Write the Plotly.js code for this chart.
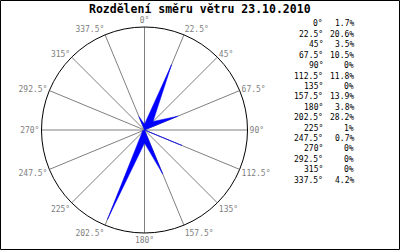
<!DOCTYPE html>
<html><head><meta charset="utf-8">
<script src="https://cdn.plot.ly/plotly-3.0.1.min.js"></script>
<style>html,body{margin:0;padding:0;background:#fff}#c{width:400px;height:250px}</style>
</head><body><div id="c"></div>
<script>
const directions = [0, 22.5, 45, 67.5, 90, 112.5, 135, 157.5, 180, 202.5, 225, 247.5, 270, 292.5, 315, 337.5];
const dirLabels = ["0°","22.5°","45°","67.5°","90°","112.5°","135°","157.5°","180°","202.5°","225°","247.5°","270°","292.5°","315°","337.5°"];
const shares = [1.7, 20.6, 3.5, 10.5, 0, 11.8, 0, 13.9, 3.8, 28.2, 1, 0.7, 0, 0, 0, 4.2];
const shareLabels = ["1.7%","20.6%","3.5%","10.5%","0%","11.8%","0%","13.9%","3.8%","28.2%","1%","0.7%","0%","0%","0%","4.2%"];

const W = 400, H = 250;
const mono = "DejaVu Sans Mono, Liberation Mono, monospace";

const trace = {
  type: 'scatterpolar',
  r: shares.concat([shares[0]]),
  theta: directions.concat([directions[0]]),
  mode: 'lines',
  fill: 'toself',
  fillcolor: '#0000ff',
  line: {color: '#0000ff', width: 0.5},
  hoverinfo: 'skip'
};

const annotations = [];
const rowTop = 24, rowStep = 10.4;
directions.forEach((d, i) => {
  const y = 1 - (rowTop + i * rowStep) / H;
  annotations.push({xref:'paper', yref:'paper', x: 325/W, y: y, xanchor:'right', yanchor:'middle',
    text: dirLabels[i], showarrow:false, font:{family: mono, size: 8, color:'#000'}});
  annotations.push({xref:'paper', yref:'paper', x: 356/W, y: y, xanchor:'right', yanchor:'middle',
    text: shareLabels[i], showarrow:false, font:{family: mono, size: 8, color:'#000'}});
});
annotations.push({xref:'paper', yref:'paper', x: 200/W, y: 1 - 9/H, xanchor:'center', yanchor:'middle',
  text: '<b>Rozdělení směru větru 23.10.2010</b>', showarrow:false, font:{family: mono, size: 11.5, color:'#000'}});

const layout = {
  width: W, height: H,
  margin: {l:0, r:0, t:0, b:0},
  paper_bgcolor: '#fff',
  showlegend: false,
  polar: {
    domain: {x: [41.5/W, 247.5/W], y: [17/H, 223/H]},
    bgcolor: '#fff',
    radialaxis: {visible: false, range: [0, 30], showgrid: false},
    angularaxis: {
      rotation: 90, direction: 'clockwise',
      tickmode: 'array', tickvals: directions, ticktext: dirLabels,
      showgrid: true, gridcolor: '#808080', gridwidth: 1,
      showline: true, linecolor: '#000', linewidth: 1,
      ticks: '', tickfont: {family: mono, size: 8, color: '#808080'}
    }
  },
  annotations: annotations,
  shapes: [{type:'rect', xref:'paper', yref:'paper', x0: 0.5/W, x1: 1-0.5/W, y0: 0.5/H, y1: 1-0.5/H,
    line:{color:'#000', width:1}}]
};

Plotly.newPlot('c', [trace], layout, {staticPlot: true, displayModeBar: false});
</script></body></html>
